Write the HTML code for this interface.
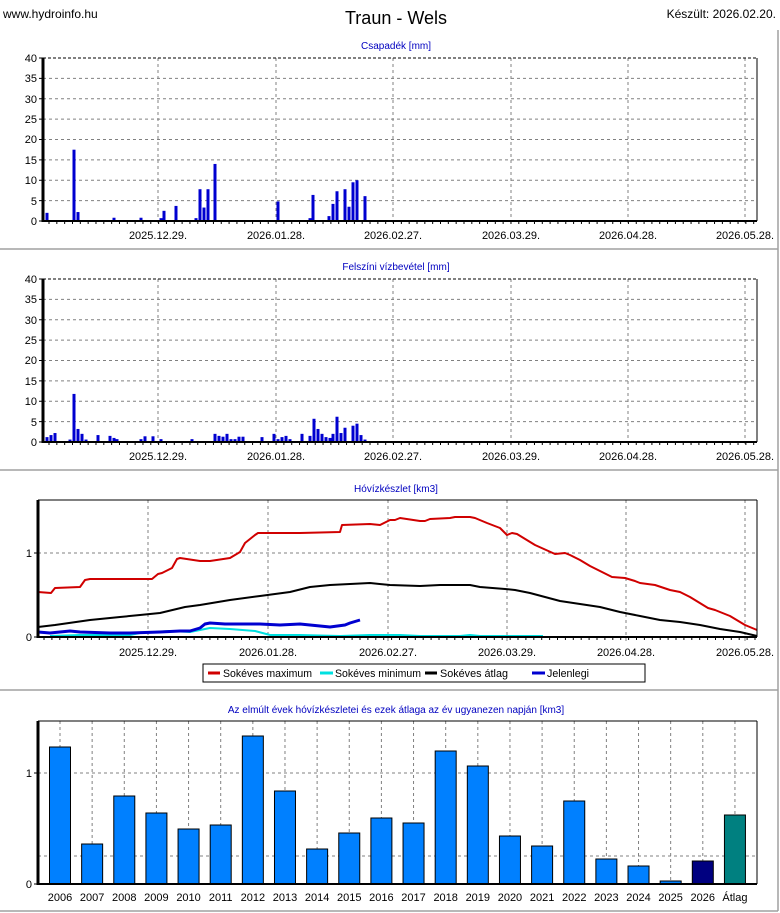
<!DOCTYPE html>
<html><head><meta charset="utf-8"><style>
html,body{margin:0;padding:0;background:#fff;}
svg{display:block;font-family:"Liberation Sans",Arial,sans-serif;}
</style></head><body>
<svg id="s" width="780" height="913" xmlns="http://www.w3.org/2000/svg">
<rect width="780" height="913" fill="#fff"/>
<text x="3" y="18" font-size="12">www.hydroinfo.hu</text>
<text x="396" y="24" font-size="18" text-anchor="middle">Traun - Wels</text>
<text x="776" y="18" font-size="12" text-anchor="end">Készült: 2026.02.20.</text>
<g stroke="#a0a0a0" stroke-width="1.5" fill="none">
<line x1="0" y1="249" x2="778" y2="249"/>
<line x1="0" y1="470" x2="778" y2="470"/>
<line x1="0" y1="690" x2="778" y2="690"/>
<line x1="0" y1="911" x2="778" y2="911"/>
<line x1="778" y1="30" x2="778" y2="911"/>
</g>
<g font-size="10" fill="#0000c0" text-anchor="middle">
<text x="396" y="49">Csapadék [mm]</text>
<text x="396" y="270">Felszíni vízbevétel [mm]</text>
<text x="396" y="492">Hóvízkészlet [km3]</text>
<text x="396" y="713">Az elmúlt évek hóvízkészletei és ezek átlaga az év ugyanezen napján [km3]</text>
</g>
<g id="p1"></g><g id="p2"></g><g id="p3"></g><g id="p4"></g>
<g font-size="11" text-anchor="middle" fill="#000">
<text x="158" y="239">2025.12.29.</text><text x="276" y="239">2026.01.28.</text><text x="393" y="239">2026.02.27.</text><text x="511" y="239">2026.03.29.</text><text x="628" y="239">2026.04.28.</text><text x="745" y="239">2026.05.28.</text>
<text x="158" y="460">2025.12.29.</text><text x="276" y="460">2026.01.28.</text><text x="393" y="460">2026.02.27.</text><text x="511" y="460">2026.03.29.</text><text x="628" y="460">2026.04.28.</text><text x="745" y="460">2026.05.28.</text>
<text x="148" y="656">2025.12.29.</text><text x="268" y="656">2026.01.28.</text><text x="388" y="656">2026.02.27.</text><text x="507" y="656">2026.03.29.</text><text x="626" y="656">2026.04.28.</text><text x="745" y="656">2026.05.28.</text>
</g>
<g font-size="11" text-anchor="end">
<text x="37" y="62">40</text><text x="37" y="82">35</text><text x="37" y="103">30</text><text x="37" y="123">25</text><text x="37" y="143">20</text><text x="37" y="164">15</text><text x="37" y="184">10</text><text x="37" y="205">5</text><text x="37" y="225">0</text>
<text x="37" y="283">40</text><text x="37" y="303">35</text><text x="37" y="324">30</text><text x="37" y="344">25</text><text x="37" y="364">20</text><text x="37" y="385">15</text><text x="37" y="405">10</text><text x="37" y="426">5</text><text x="37" y="446">0</text>
<text x="32" y="557">1</text><text x="32" y="641">0</text>
<text x="32" y="777">1</text><text x="32" y="888">0</text>
</g>
<rect x="203" y="664" width="442" height="18" fill="#fff" stroke="#000"/>
<g stroke-width="3"><line x1="208" y1="673" x2="220" y2="673" stroke="#d00000"/><line x1="320" y1="673" x2="333" y2="673" stroke="#00e0e0"/><line x1="425" y1="673" x2="437" y2="673" stroke="#000"/><line x1="532" y1="673" x2="545" y2="673" stroke="#0000d0"/></g>
<g font-size="11"><text x="223" y="677" textLength="89" lengthAdjust="spacingAndGlyphs">Sokéves maximum</text><text x="335" y="677" textLength="86" lengthAdjust="spacingAndGlyphs">Sokéves minimum</text><text x="440" y="677" textLength="68" lengthAdjust="spacingAndGlyphs">Sokéves átlag</text><text x="547" y="677" textLength="42" lengthAdjust="spacingAndGlyphs">Jelenlegi</text></g>
<g font-size="11" text-anchor="middle" id="yl"></g>
</svg>
<script>
var NS="http://www.w3.org/2000/svg";
function el(p,t,a){var e=document.createElementNS(NS,t);for(var k in a)e.setAttribute(k,a[k]);document.getElementById(p).appendChild(e);return e;}
var vx=[158,276,393,511,628,745];
function barPanel(id,top,bars){
 var L=43,R=757,B=top+163;
 for(var i=1;i<8;i++){var y=top+i*163/8;el(id,'line',{x1:L,y1:y,x2:R,y2:y,stroke:'#808080','stroke-dasharray':'3,3'});}
 vx.forEach(function(x){el(id,'line',{x1:x,y1:top,x2:x,y2:B+4,stroke:'#808080','stroke-dasharray':'3,3'});});
 el(id,'line',{x1:L,y1:top,x2:R,y2:top,stroke:'#000','stroke-dasharray':'3,2'});
 el(id,'line',{x1:R,y1:top,x2:R,y2:B,stroke:'#000'});
 for(var i=0;i<=8;i++){var y=top+i*163/8;el(id,'line',{x1:L-4,y1:y,x2:L,y2:y,stroke:'#000'});}
 for(var x=49;x<R;x+=7.83){el(id,'line',{x1:x,y1:B,x2:x,y2:B+3,stroke:'#000'});}
 bars.forEach(function(b){var h=b[1]*4.075;el(id,'rect',{x:b[0]-1.5,y:B-h,width:3,height:h,fill:'#0000d0'});});
 el(id,'line',{x1:L,y1:top,x2:L,y2:B+1,stroke:'#000','stroke-width':3});
 el(id,'line',{x1:L,y1:B,x2:R,y2:B,stroke:'#000','stroke-width':2});
}
barPanel('p1',58,[[47,2],[74,17.5],[78,2.2],[114,0.8],[141,0.8],[161,0.7],[164,2.5],[176,3.7],[196,0.7],[200,7.8],[204,3.3],[208,7.8],[215,14],[278,4.8],[310,0.7],[313,6.4],[329,1.2],[333,4.2],[337,7.3],[345,7.8],[349,3.5],[353,9.5],[357,10],[365,6.1]]);
barPanel('p2',279,[[47,1.2],[51,1.7],[55,2.2],[70,0.6],[74,11.8],[78,3.2],[82,2],[86,0.6],[98,1.7],[110,1.5],[114,1],[117,0.7],[141,0.7],[145,1.4],[153,1.4],[161,0.7],[192,0.7],[215,2],[219,1.5],[223,1.3],[227,2],[231,0.7],[235,0.7],[239,1.3],[243,1.3],[262,1.2],[274,2],[278,0.7],[282,1.2],[286,1.5],[290,0.7],[302,2],[310,1.5],[314,5.7],[318,3.2],[322,2],[326,1.2],[330,1],[333,2],[337,6.2],[341,2.2],[345,3.5],[353,4],[357,4.5],[361,1.7],[365,0.6]]);
(function(){var id='p3',L=38,R=757,T=500,B=637;
 var v3=[148,268,388,507,626,745];
 el(id,'line',{x1:L,y1:553,x2:R,y2:553,stroke:'#808080','stroke-dasharray':'3,3'});
 v3.forEach(function(x){el(id,'line',{x1:x,y1:T,x2:x,y2:B+4,stroke:'#808080','stroke-dasharray':'3,3'});});
 for(var x=44;x<R;x+=7.9){el(id,'line',{x1:x,y1:B,x2:x,y2:B+3,stroke:'#000'});}
 [553,637].forEach(function(y){el(id,'line',{x1:L-4,y1:y,x2:L,y2:y,stroke:'#000'});});
 function pl(pts,c,w){el(id,'polyline',{points:pts,fill:'none',stroke:c,'stroke-width':w,'stroke-linejoin':'round'});}
 pl("50,636 80,635 85,635 130,635 140,633 170,631 190,632 200,630 210,628 230,629 255,631 270,635 300,635 340,636 370,635 400,635 420,636 460,636 470,635 480,636 543,636",'#00e0e0',2);
 pl("38,592 51,593 55,588 80,587 85,580 90,579 152,579 158,574 162,573 172,568 177,559 180,558 200,561 210,561 230,558 240,552 245,543 255,535 258,533 300,533 340,532 342,525 370,524 380,525 390,520 395,520 400,518 420,521 425,521 430,519 450,518 455,517 470,517 475,518 487,523 500,528 505,533 507,535 512,533 517,534 535,545 555,554 565,553 570,555 580,560 590,566 610,576 612,577 625,578 635,581 640,583 655,585 670,590 680,592 690,597 708,608 715,610 730,616 745,625 757,630",'#d00000',2);
 pl("38,627 55,625 90,620 120,617 140,615 160,613 185,607 200,605 230,600 260,596 290,592 310,587 330,585 370,583 390,585 420,586 440,585 470,585 480,587 505,589 515,590 530,593 545,597 560,601 580,604 600,607 620,612 640,616 660,620 680,622 700,625 720,629 740,632 757,636",'#000',2);
 pl("38,632 50,633 60,632 70,631 80,632 110,633 130,633 160,632 180,631 190,631 200,628 205,624 210,623 225,624 260,624 280,625 300,624 320,626 330,627 345,625 350,623 360,620",'#0000d0',3);
 el(id,'line',{x1:L,y1:T,x2:R,y2:T,stroke:'#000'});
 el(id,'line',{x1:R,y1:T,x2:R,y2:B,stroke:'#000'});
 el(id,'line',{x1:L,y1:T,x2:L,y2:B+1,stroke:'#000','stroke-width':3});
 el(id,'line',{x1:L,y1:B,x2:R,y2:B,stroke:'#000','stroke-width':2});
})();
(function(){var id='p4',L=38,R=757,T=721,B=884,S=32.14;
 [773,856].forEach(function(y){el(id,'line',{x1:L,y1:y,x2:R,y2:y,stroke:'#808080','stroke-dasharray':'3,3'});});
 var tops=[747,844,796,813,829,825,736,791,849,833,818,823,751,766,836,846,801,859,866,881,861,815];
 var labs=['2006','2007','2008','2009','2010','2011','2012','2013','2014','2015','2016','2017','2018','2019','2020','2021','2022','2023','2024','2025','2026','Átlag'];
 for(var i=0;i<22;i++){var cx=60+i*S;el(id,'line',{x1:cx,y1:T,x2:cx,y2:B,stroke:'#808080','stroke-dasharray':'3,3'});}
 [773,884].forEach(function(y){el(id,'line',{x1:L-4,y1:y,x2:L,y2:y,stroke:'#000'});});
 for(var i=0;i<22;i++){var cx=60+i*S;var c=i==20?'#000080':(i==21?'#008080':'#0080ff');
  el(id,'rect',{x:cx-10.5,y:tops[i],width:21,height:B-tops[i],fill:c,stroke:'#000','stroke-width':1});
  var t=el('yl','text',{x:cx,y:901});t.textContent=labs[i];}
 el(id,'line',{x1:L,y1:T,x2:R,y2:T,stroke:'#000'});
 el(id,'line',{x1:R,y1:T,x2:R,y2:B,stroke:'#000'});
 el(id,'line',{x1:L,y1:T,x2:L,y2:B+1,stroke:'#000','stroke-width':3});
 el(id,'line',{x1:L,y1:B,x2:R,y2:B,stroke:'#000','stroke-width':2});
})();
</script>
</body></html>
